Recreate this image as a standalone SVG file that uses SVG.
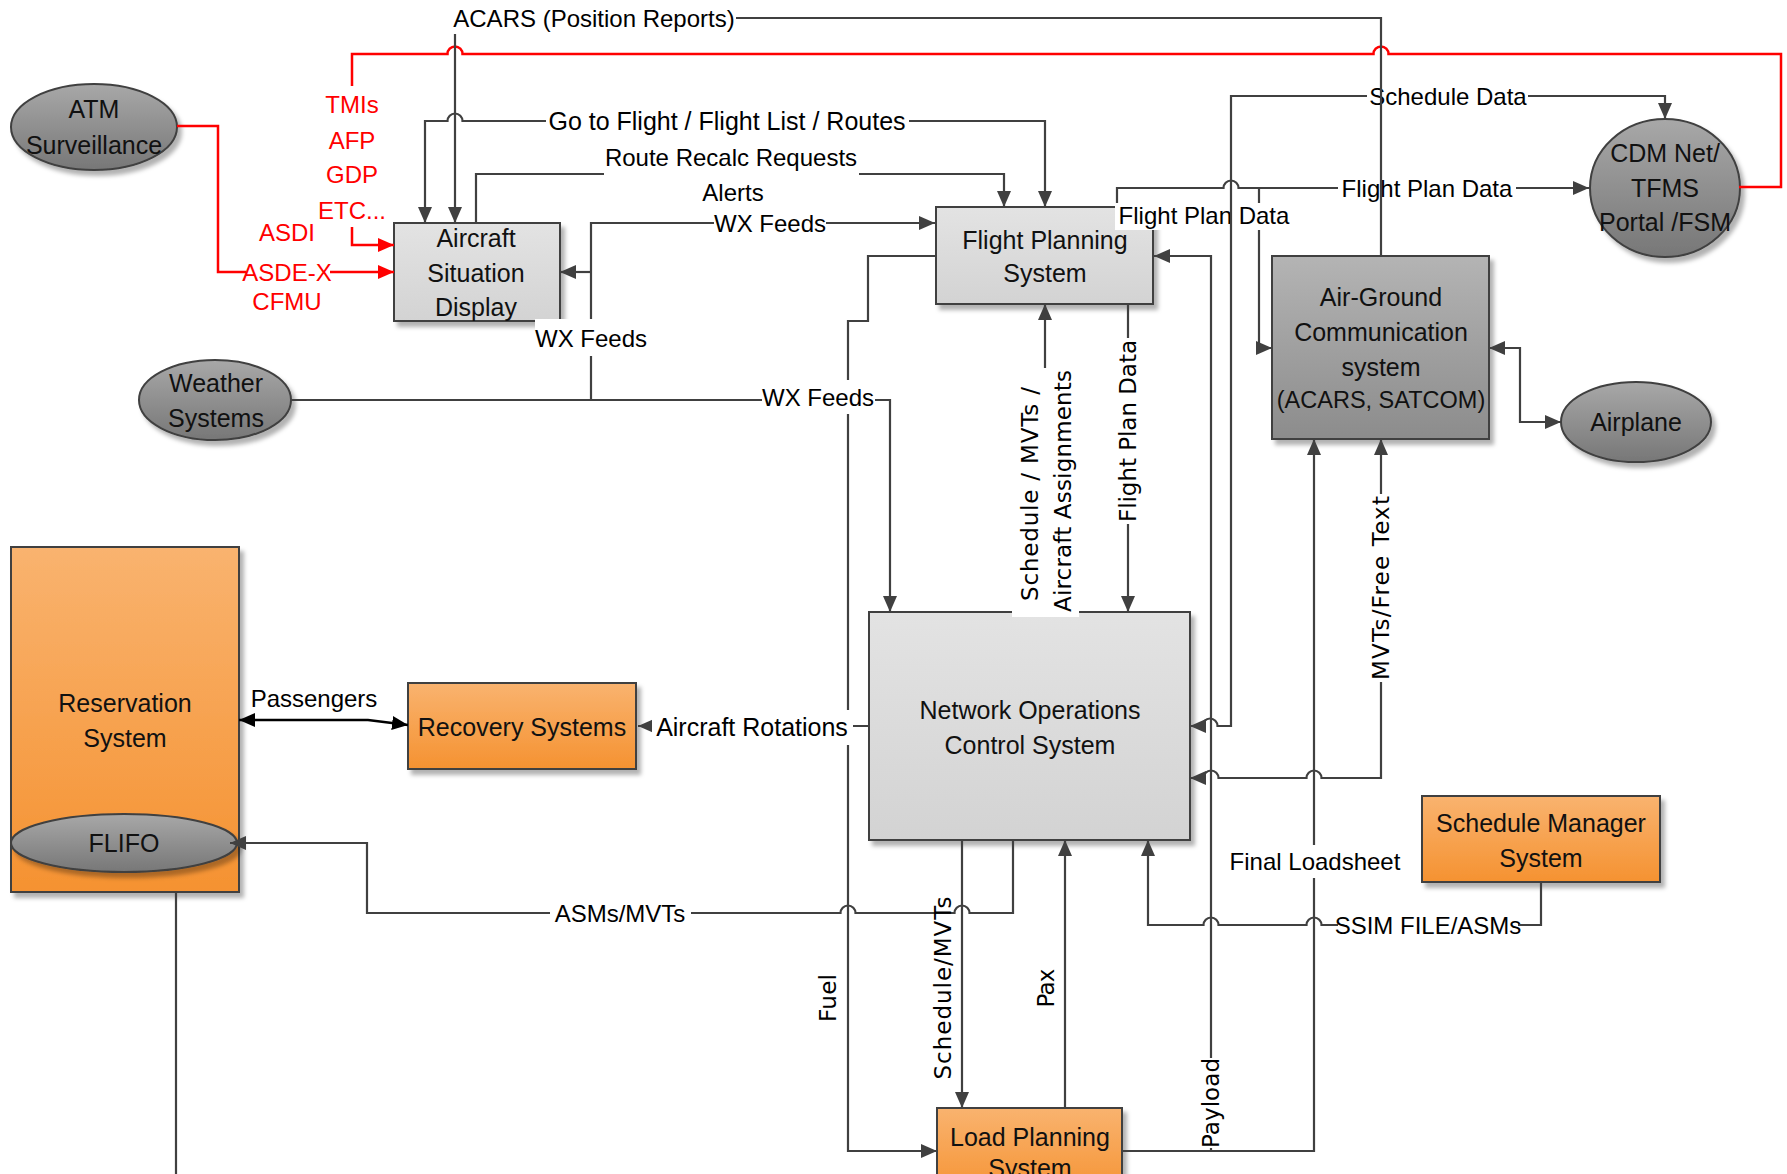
<svg xmlns="http://www.w3.org/2000/svg" width="1787" height="1174" viewBox="0 0 1787 1174">
<style>
.ln{fill:none;stroke:#404040;stroke-width:2.2}
.red{fill:none;stroke:#ff0000;stroke-width:2.5}
.blk{fill:none;stroke:#000;stroke-width:2.5}
.bg{fill:#fff}
.lbl{font-family:'Liberation Sans',Arial,sans-serif;font-size:24px;fill:#000;text-anchor:middle;dominant-baseline:central}
.vl{font-family:'DejaVu Sans',Verdana,sans-serif;font-size:23px;fill:#000;text-anchor:middle;dominant-baseline:central}
.rt{font-family:'Liberation Sans',Arial,sans-serif;font-size:24px;fill:#ff0000;text-anchor:middle;dominant-baseline:central}
.nt{font-family:'Liberation Sans',Arial,sans-serif;font-size:25px;fill:#111;text-anchor:middle;dominant-baseline:central}
.box{stroke:#404040;stroke-width:2}
.light{fill:url(#gLight)}
.dark{fill:url(#gDark)}
.ell{fill:url(#gEll)}
.org{fill:url(#gOr)}
</style>
<defs>
<linearGradient id="gLight" x1="0" y1="0" x2="0" y2="1"><stop offset="0" stop-color="#e3e3e3"/><stop offset="1" stop-color="#d3d3d3"/></linearGradient>
<linearGradient id="gDark" x1="0" y1="0" x2="0" y2="1"><stop offset="0" stop-color="#b4b4b4"/><stop offset="1" stop-color="#8c8c8c"/></linearGradient>
<linearGradient id="gEll" x1="0" y1="0" x2="0" y2="1"><stop offset="0" stop-color="#a8a8a8"/><stop offset="1" stop-color="#777777"/></linearGradient>
<linearGradient id="gOr" x1="0" y1="0" x2="0" y2="1"><stop offset="0" stop-color="#f9b36f"/><stop offset="1" stop-color="#f59231"/></linearGradient>
<filter id="sh" x="-10%" y="-10%" width="130%" height="130%"><feDropShadow dx="4" dy="5" stdDeviation="2" flood-color="#000" flood-opacity="0.3"/></filter>
<marker id="a" viewBox="0 0 16 14" refX="16" refY="7" markerWidth="16" markerHeight="14" markerUnits="userSpaceOnUse" orient="auto-start-reverse"><path d="M0,0 L16,7 L0,14 z" fill="#404040"/></marker>
<marker id="ar" viewBox="0 0 16 14" refX="16" refY="7" markerWidth="16" markerHeight="14" markerUnits="userSpaceOnUse" orient="auto-start-reverse"><path d="M0,0 L16,7 L0,14 z" fill="#ff0000"/></marker>
<marker id="ab" viewBox="0 0 16 14" refX="16" refY="7" markerWidth="16" markerHeight="14" markerUnits="userSpaceOnUse" orient="auto-start-reverse"><path d="M0,0 L16,7 L0,14 z" fill="#000"/></marker>
</defs>
<rect width="1787" height="1174" fill="#fff"/>

<g id="atm"><ellipse class="box ell" filter="url(#sh)" cx="94" cy="127" rx="83" ry="43"/><text class="nt" x="94" y="109">ATM</text><text class="nt" x="94" y="145">Surveillance</text></g>
<g id="weather"><ellipse class="box ell" filter="url(#sh)" cx="215" cy="400" rx="76" ry="40"/><text class="nt" x="216" y="383">Weather</text><text class="nt" x="216" y="418">Systems</text></g>
<g id="asd"><rect class="box light" filter="url(#sh)" x="394" y="223" width="166" height="98"/><text class="nt" x="476" y="238">Aircraft</text><text class="nt" x="476" y="273">Situation</text><text class="nt" x="476" y="307">Display</text></g>
<g id="fps"><rect class="box light" filter="url(#sh)" x="936" y="207" width="217" height="97"/><text class="nt" x="1045" y="240">Flight Planning</text><text class="nt" x="1045" y="273">System</text></g>
<g id="nocs"><rect class="box light" filter="url(#sh)" x="869" y="612" width="321" height="228"/><text class="nt" x="1030" y="710">Network Operations</text><text class="nt" x="1030" y="745">Control System</text></g>
<g id="airground"><rect class="box dark" filter="url(#sh)" x="1272" y="256" width="217" height="183"/><text class="nt" x="1381" y="297">Air-Ground</text><text class="nt" x="1381" y="332">Communication</text><text class="nt" x="1381" y="367">system</text><text class="nt" x="1381" y="400" style="font-size:23.5px">(ACARS, SATCOM)</text></g>
<g id="cdm"><ellipse class="box ell" filter="url(#sh)" cx="1665" cy="188" rx="75" ry="69"/><text class="nt" x="1665" y="153">CDM Net/</text><text class="nt" x="1665" y="188">TFMS</text><text class="nt" x="1665" y="222">Portal /FSM</text></g>
<g id="airplane"><ellipse class="box ell" filter="url(#sh)" cx="1636" cy="422" rx="75" ry="40"/><text class="nt" x="1636" y="422">Airplane</text></g>
<g id="reservation"><rect class="box org" filter="url(#sh)" x="11" y="547" width="228" height="345"/><text class="nt" x="125" y="703">Reservation</text><text class="nt" x="125" y="738">System</text></g>
<g id="flifo"><ellipse class="box ell" filter="url(#sh)" cx="124" cy="843" rx="113" ry="29"/><text class="nt" x="124" y="843">FLIFO</text></g>
<g id="recovery"><rect class="box org" filter="url(#sh)" x="408" y="683" width="228" height="86"/><text class="nt" x="522" y="727">Recovery Systems</text></g>
<g id="schedmgr"><rect class="box org" filter="url(#sh)" x="1422" y="796" width="238" height="86"/><text class="nt" x="1541" y="823">Schedule Manager</text><text class="nt" x="1541" y="858">System</text></g>
<g id="loadplan"><rect class="box org" filter="url(#sh)" x="937" y="1108" width="185" height="90"/><text class="nt" x="1030" y="1137">Load Planning</text><text class="nt" x="1030" y="1168">System</text></g>

<g id="connectors">
<!-- Fuel -->
<path class="ln" marker-end="url(#a)" d="M935,256 H868 V321 H848 V1151 H937"/>
<text class="vl" transform="rotate(-90 828 998)" x="828" y="998" textLength="48" lengthAdjust="spacing">Fuel</text>
<!-- WX Feeds -->
<path class="ln" marker-end="url(#a)" d="M291,400 H890 V612"/>
<path class="ln" marker-end="url(#a)" d="M591,400 V223 H935"/>
<path class="ln" marker-end="url(#a)" d="M591,272 H560"/>
<rect class="bg" x="714" y="209" width="112" height="28"/><text class="lbl" x="770" y="223">WX Feeds</text>
<rect class="bg" x="762" y="380" width="113" height="34"/><text class="lbl" x="818" y="397">WX Feeds</text>
<rect class="bg" x="535" y="319" width="111" height="37"/><text class="lbl" x="591" y="338">WX Feeds</text>
<!-- Aircraft Rotations -->
<path class="ln" marker-end="url(#a)" d="M869,726 H638"/>
<rect class="bg" x="652" y="710" width="201" height="35"/><text class="lbl" x="752" y="727" style="font-size:25px">Aircraft Rotations</text>
<!-- Red TMIs -->
<path class="red" d="M1739,187 H1781 V54 H1388.5 A7.5,7.5 0 0 0 1373.5,54 H462.5 A7.5,7.5 0 0 0 447.5,54 H352 V86"/>
<path class="red" marker-end="url(#ar)" d="M352,227 V245 H394"/>
<text class="rt" x="352" y="104">TMIs</text>
<text class="rt" x="352" y="140">AFP</text>
<text class="rt" x="352" y="174">GDP</text>
<text class="rt" x="352" y="210">ETC...</text>
<!-- Red ATM -->
<path class="red" marker-end="url(#ar)" d="M177,126 H218 V272 H394"/>
<rect class="bg" x="246" y="260" width="84" height="24"/>
<text class="rt" x="287" y="232">ASDI</text>
<text class="rt" x="287" y="272">ASDE-X</text>
<text class="rt" x="287" y="301">CFMU</text>
<!-- Go to Flight -->
<path class="ln" marker-start="url(#a)" marker-end="url(#a)" d="M425,223 V121 H447.5 A7.5,7.5 0 0 1 462.5,121 H1045 V207"/>
<rect class="bg" x="546" y="106" width="363" height="30"/><text class="lbl" x="727" y="121" style="font-size:25px">Go to Flight / Flight List / Routes</text>
<!-- Route Recalc -->
<path class="ln" marker-end="url(#a)" d="M476,223 V174 H1004 V207"/>
<rect class="bg" x="604" y="142" width="255" height="38"/><text class="lbl" x="731" y="157">Route Recalc Requests</text><text class="lbl" x="733" y="192">Alerts</text>
<!-- Schedule / MVTs / Aircraft Assignments -->
<path class="ln" marker-end="url(#a)" d="M1045,612 V304"/>
<rect class="bg" x="1012" y="368" width="67" height="249"/>
<text class="vl" transform="rotate(-90 1030 494)" x="1030" y="494" textLength="214" lengthAdjust="spacing">Schedule / MVTs /</text>
<text class="vl" transform="rotate(-90 1063 491)" x="1063" y="491" textLength="242" lengthAdjust="spacing">Aircraft Assignments</text>
<!-- Flight Plan Data vertical -->
<path class="ln" marker-end="url(#a)" d="M1128,304 V612"/>
<rect class="bg" x="1114" y="338" width="28" height="186"/>
<text class="vl" transform="rotate(-90 1128 431)" x="1128" y="431" textLength="182" lengthAdjust="spacing">Flight Plan Data</text>
<!-- Flight Plan Data to CDM and Air-Ground -->
<path class="ln" marker-end="url(#a)" d="M1117,207 V188 H1223.5 A7.5,7.5 0 0 1 1238.5,188 H1589"/>
<path class="ln" marker-end="url(#a)" d="M1259,188 V348 H1272"/>
<rect class="bg" x="1338" y="174" width="178" height="28"/><text class="lbl" x="1427" y="188">Flight Plan Data</text>
<rect class="bg" x="1115" y="203" width="176" height="27"/><text class="lbl" x="1204" y="215">Flight Plan Data</text>
<!-- Payload -->
<path class="ln" marker-end="url(#a)" d="M1122,1151 H1211 V256 H1154"/>
<rect class="bg" x="1198" y="1058" width="26" height="90"/>
<text class="vl" transform="rotate(-90 1211 1103)" x="1211" y="1103" textLength="90" lengthAdjust="spacing">Payload</text>
<!-- Final Loadsheet -->
<path class="ln" marker-end="url(#a)" d="M1122,1151 H1314 V439"/>
<rect class="bg" x="1228" y="845" width="175" height="33"/><text class="lbl" x="1315" y="861">Final Loadsheet</text>
<!-- Schedule Data -->
<path class="ln" marker-start="url(#a)" marker-end="url(#a)" d="M1190,726 H1202.5 A7.5,7.5 0 0 1 1217.5,726 H1231 V96 H1665 V119"/>
<rect class="bg" x="1367" y="82" width="161" height="28"/><text class="lbl" x="1448" y="96">Schedule Data</text>
<!-- MVTs/Free Text -->
<path class="ln" marker-start="url(#a)" marker-end="url(#a)" d="M1381,439 V778 H1321.5 A7.5,7.5 0 0 0 1306.5,778 H1218.5 A7.5,7.5 0 0 0 1203.5,778 H1190"/>
<rect class="bg" x="1368" y="494" width="26" height="188"/>
<text class="vl" transform="rotate(-90 1381 588)" x="1381" y="588" textLength="184" lengthAdjust="spacing">MVTs/Free Text</text>
<!-- SSIM -->
<path class="ln" marker-end="url(#a)" d="M1541,882 V925 H1321.5 A7.5,7.5 0 0 0 1306.5,925 H1218.5 A7.5,7.5 0 0 0 1203.5,925 H1148 V840"/>
<rect class="bg" x="1338" y="911" width="180" height="29"/><text class="lbl" x="1428" y="925">SSIM FILE/ASMs</text>
<!-- ASMs/MVTs -->
<path class="ln" marker-end="url(#a)" d="M1013,840 V913 H969.5 A7.5,7.5 0 0 0 954.5,913 H855.5 A7.5,7.5 0 0 0 840.5,913 H367 V843 H230"/>
<rect class="bg" x="550" y="898" width="141" height="30"/><text class="lbl" x="620" y="913">ASMs/MVTs</text>
<!-- Schedule/MVTs and Pax -->
<path class="ln" marker-end="url(#a)" d="M962,840 V1108"/>
<text class="vl" transform="rotate(-90 943 988)" x="943" y="988" textLength="183" lengthAdjust="spacing">Schedule/MVTs</text>
<path class="ln" marker-end="url(#a)" d="M1065,1108 V840"/>
<text class="vl" transform="rotate(-90 1046 988)" x="1046" y="988" textLength="39" lengthAdjust="spacing">Pax</text>
<!-- Passengers -->
<path class="blk" marker-start="url(#ab)" marker-end="url(#ab)" d="M239,720 H368 L408,725"/>
<text class="lbl" x="314" y="698">Passengers</text>
<!-- Air-Ground to Airplane -->
<path class="ln" marker-start="url(#a)" marker-end="url(#a)" d="M1489,348 H1520 V422 H1561"/>
<!-- Reservation down -->
<path class="ln" d="M176,892 V1174"/>
<!-- ACARS -->
<path class="ln" marker-end="url(#a)" d="M1381,256 V18 H455 V223"/>
<rect class="bg" x="453" y="4" width="283" height="30"/><text class="lbl" x="594" y="18">ACARS (Position Reports)</text>
</g>
</svg>
